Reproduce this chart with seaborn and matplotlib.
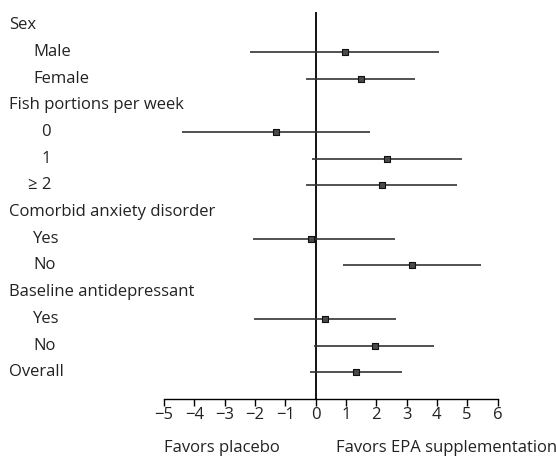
import matplotlib.pyplot as plt
import matplotlib.transforms as mtransforms
import numpy as np
import pandas as pd
import seaborn as sns

# Dados (diferença média com IC 95%)
labels = ["Sex", "Male", "Female", "Fish portions per week", "0", "1", "\u2265 2",
          "Comorbid anxiety disorder", "Yes", "No", "Baseline antidepressant",
          "Yes", "No", "Overall"]
nivel = [0, 1, 1, 0, 2, 2, 2, 0, 1, 1, 0, 1, 1, 0]
estimativa = [np.nan, 0.96, 1.51, np.nan, -1.29, 2.37, 2.18, np.nan, -0.16, 3.18,
              np.nan, 0.32, 1.95, 1.33]
ic_inf = [np.nan, -2.15, -0.31, np.nan, -4.41, -0.12, -0.31, np.nan, -2.05, 0.89,
          np.nan, -2.03, -0.06, -0.19]
ic_sup = [np.nan, 4.07, 3.27, np.nan, 1.81, 4.84, 4.65, np.nan, 2.61, 5.46,
          np.nan, 2.64, 3.92, 2.84]
xticks = list(range(-5, 7))

df = pd.DataFrame({"label": labels, "nivel": nivel, "est": estimativa,
                   "lo": ic_inf, "hi": ic_sup})
df["row"] = np.arange(len(df))

sns.set_theme(style="white")
plt.rcParams['font.family'] = ['Open Sans', 'DejaVu Sans']

W, H = 556, 458
FS = 12
fig = plt.figure(figsize=(W / 100, H / 100), dpi=100)
ax = fig.add_axes([164 / W, 1 - 399 / H, 333.5 / W, 387 / H])

d = df.dropna()
ax.hlines(d["row"], d["lo"], d["hi"], color="#333333", lw=1.2, zorder=2)
sns.scatterplot(data=d, x="est", y="row", marker="s", s=22, color="#4a4a4a",
                edgecolor="#111111", linewidth=0.8, zorder=3, ax=ax, legend=False)
ax.axvline(0, color="black", lw=1.3, zorder=1)

ax.set_xlim(-5, 6)
ax.set_ylim(14.0, -0.49)
ax.set_xticks(xticks)
ax.set_xticklabels([str(t).replace("-", "\u2212") for t in xticks], fontsize=FS)
ax.set_yticks([])
ax.set_xlabel("")
ax.set_ylabel("")
for s in ["left", "top", "right"]:
    ax.spines[s].set_visible(False)
ax.spines["bottom"].set_color("black")
ax.spines["bottom"].set_linewidth(1.0)
ax.tick_params(axis="x", direction="out", length=5, width=1, color="black",
               pad=1, bottom=True, labelcolor="#222222")

# Rótulos das linhas à esquerda
trans = mtransforms.blended_transform_factory(fig.transFigure, ax.transData)
for _, r in df.iterrows():
    if r["nivel"] == 0:
        ax.text(9 / W, r["row"], r["label"], transform=trans, ha="left",
                va="center", fontsize=FS, color="#222222", clip_on=False)
    elif r["nivel"] == 1:
        ax.text(33 / W, r["row"], r["label"], transform=trans, ha="left",
                va="center", fontsize=FS, color="#222222", clip_on=False)
    else:
        ax.text(51 / W, r["row"], r["label"], transform=trans, ha="right",
                va="center", fontsize=FS, color="#222222", clip_on=False)

ax.text(-5, 15.85, "Favors placebo", ha="left", va="center", fontsize=FS,
        color="#222222", clip_on=False)
ax.text(0.67, 15.85, "Favors EPA supplementation", ha="left", va="center",
        fontsize=FS, color="#222222", clip_on=False)

plt.savefig("out.png", dpi=100)
plt.close()
